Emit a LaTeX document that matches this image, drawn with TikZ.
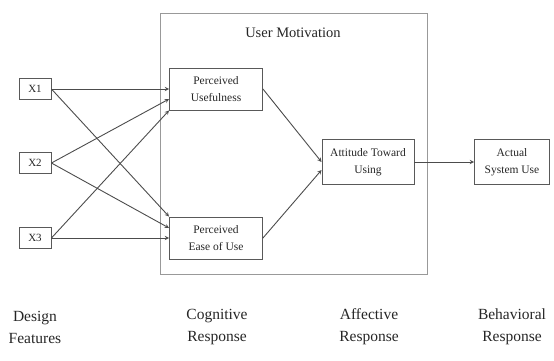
\documentclass[tikz,border=0pt]{standalone}
\usepackage{fontspec}
\setmainfont{Liberation Serif}
\usetikzlibrary{arrows,positioning}

\begin{document}
\begin{tikzpicture}[x=1pt,y=-1pt,
  feature/.style={rectangle,draw=black!65,line width=0.9pt,minimum width=32pt,minimum height=21pt,inner sep=0pt,text=black!85,font=\fontsize{11}{12}\selectfont},
  construct/.style={rectangle,draw=black!65,line width=0.9pt,minimum width=93pt,minimum height=42pt,inner sep=0pt,align=center,text=black!85,font=\fontsize{11.5}{17}\selectfont},
  edge/.style={line width=0.9pt,draw=black!70,->,>=stealth},
  level/.style={align=center,text=black!85,font=\fontsize{15.5}{22}\selectfont},
  frame/.style={draw=black!40,line width=0.8pt}]
\useasboundingbox (0,0) rectangle (554,360);

\draw[frame] (160,13) rectangle (427,274);
\node(title)[text=black!85,font=\fontsize{14.5}{17}\selectfont] at (293,33) {User Motivation};

\node(x1)[feature] at (35,89) {X1};
\node(x2)[feature] at (35,163) {X2};
\node(x3)[feature] at (35,238) {X3};

\node(pu)[construct] at (216,89) {Perceived\\Usefulness};
\node(peou)[construct] at (216,238) {Perceived\\Ease of Use};
\node(atu)[construct,minimum width=92pt,minimum height=45pt] at (368,162) {Attitude Toward\\Using};
\node(use)[construct,minimum width=75pt,minimum height=45pt] at (512,162) {Actual\\System Use};

\draw [edge] (x1.east) to (pu.west);
\draw [edge] (x2.east) to ([yshift=-10pt]pu.west);
\draw [edge] (x3.east) to (pu.south west);
\draw [edge] (x1.east) to (peou.north west);
\draw [edge] (x2.east) to ([yshift=10pt]peou.west);
\draw [edge] (x3.east) to (peou.west);

\draw [edge] (pu.east) to (atu.west);
\draw [edge] (peou.east) to ([yshift=-8pt]atu.west);
\draw [edge] (atu.east) to (use.west);

\node(design)[level] at (35,327) {Design\\Features};
\node(cognitive)[level] at (217,327) {Cognitive\\Response};
\node(affective)[level] at (369,327) {Affective\\Response};
\node(behavioral)[level] at (512,327) {Behavioral\\Response};
\end{tikzpicture}
\end{document}
